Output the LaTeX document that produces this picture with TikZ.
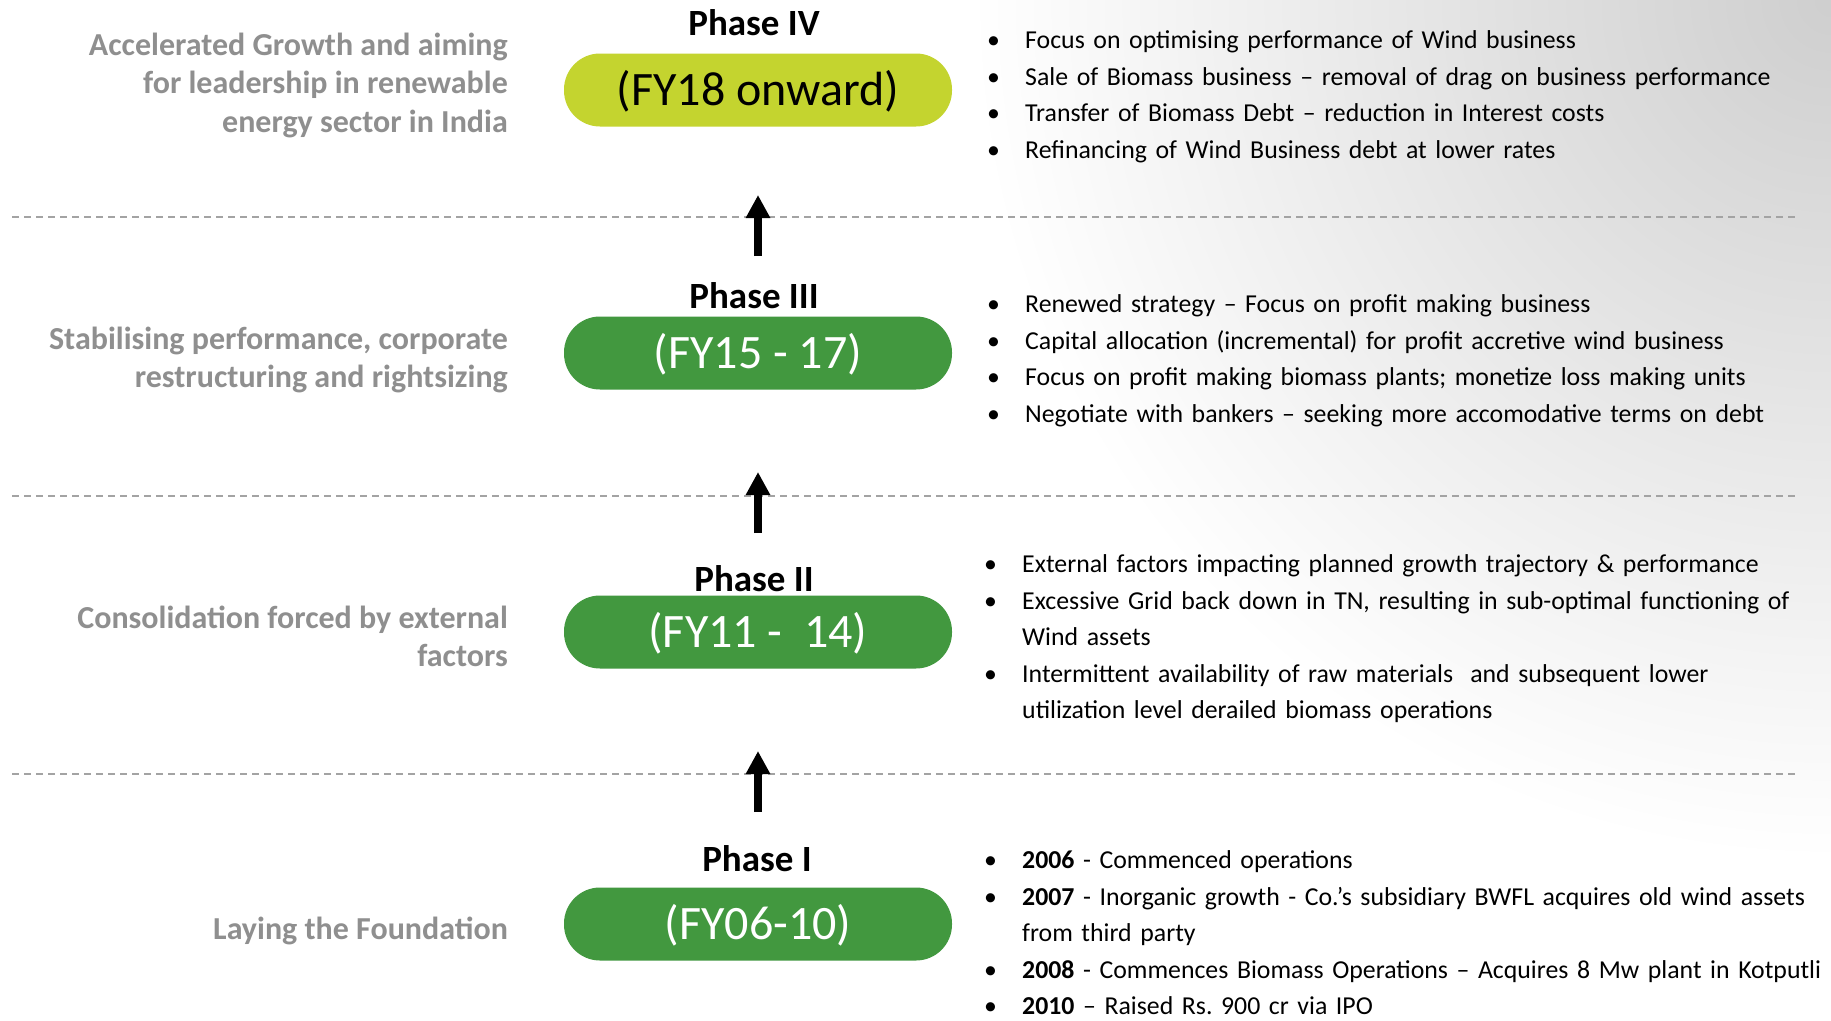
\documentclass[tikz,border=0pt]{standalone}
\usepackage{fontspec}
\setmainfont{Carlito}
\usetikzlibrary{arrows.meta}
\definecolor{lime}{HTML}{C4D42F}
\definecolor{leaf}{HTML}{42983F}
\definecolor{mute}{HTML}{8F8F8F}
\definecolor{rule}{HTML}{A3A3A3}
\frenchspacing
\newcommand{\pnt}[1]{\par\noindent\hangindent=38pt\hangafter=1\makebox[38pt][l]{\strut\textbullet}#1\par}
\begin{document}
\begin{tikzpicture}[x=1pt, y=-1pt,
	pill/.style={rounded corners=36pt, minimum width=388pt, minimum height=73pt, inner sep=0pt, text height=40pt, text depth=10pt, font=\fontsize{48}{56}\selectfont},
	phase/.style={anchor=base, inner sep=0pt, font=\bfseries\fontsize{37}{44}\selectfont},
	aim/.style={anchor=north east, inner sep=0pt, align=right, text=mute, font=\bfseries\fontsize{32}{38.5}\selectfont},
	pts/.style={anchor=north west, inner sep=0pt, text width=900pt, align=left, font=\fontsize{25.8}{36.5}\selectfont},
	sep/.style={rule, line width=1.5pt, dash pattern=on 7pt off 5pt},
	up/.style={line width=8pt, -{Triangle[length=23pt, width=23pt]}}]
	\useasboundingbox (0,0) rectangle (1831,1020);
	\begin{scope}
		\clip (0,0) rectangle (1831,1020);
		\fill[white] (0,0) rectangle (1831,1020);
		\shade[inner color=black!19, outer color=white] (1831,0) circle (860pt);
	\end{scope}

	\draw[sep] (12,217) -- (1798,217);
	\draw[sep] (12,496) -- (1798,496);
	\draw[sep] (12,774) -- (1798,774);

	\node[phase] (h4) at (754,35) {Phase IV};
	\node[pill, fill=lime] (p4) at (758,90) {(FY18 onward)};
	\node[aim] (g4) at (508,28) {\strut Accelerated Growth and aiming\\for leadership in renewable\\energy sector in India};
	\node[pts] (l4) at (987,12) {\pnt{Focus on optimising performance of Wind business}
		\pnt{Sale of Biomass business -- removal of drag on business performance}
		\pnt{Transfer of Biomass Debt -- reduction in Interest costs}
		\pnt{Refinancing of Wind Business debt at lower rates}};

	\coordinate (a3) at (758,256);
	\coordinate (a3t) at (758,195);
	\draw[up] (a3) -- (a3t);

	\node[phase] (h3) at (754,308) {Phase III};
	\node[pill, fill=leaf, text=white] (p3) at (758,353) {(FY15 - 17)};
	\node[aim] (g3) at (508,322) {\strut Stabilising performance, corporate\\restructuring and rightsizing};
	\node[pts] (l3) at (987,276) {\pnt{Renewed strategy -- Focus on profit making business}
		\pnt{Capital allocation (incremental) for profit accretive wind business}
		\pnt{Focus on profit making biomass plants; monetize loss making units}
		\pnt{Negotiate with bankers -- seeking more accomodative terms on debt}};

	\coordinate (a2) at (758,533);
	\coordinate (a2t) at (758,472);
	\draw[up] (a2) -- (a2t);

	\node[phase] (h2) at (754,591) {Phase II};
	\node[pill, fill=leaf, text=white] (p2) at (758,632) {(FY11 -~~14)};
	\node[aim] (g2) at (508,601) {\strut Consolidation forced by external\\factors};
	\node[pts] (l2) at (984,536) {\pnt{External factors impacting planned growth trajectory \& performance}
		\pnt{Excessive Grid back down in TN, resulting in sub-optimal functioning of\newline Wind assets}
		\pnt{Intermittent availability of raw materials~ and subsequent lower\newline utilization level derailed biomass operations}};

	\coordinate (a1) at (758,812);
	\coordinate (a1t) at (758,751);
	\draw[up] (a1) -- (a1t);

	\node[phase] (h1) at (757,871) {Phase I};
	\node[pill, fill=leaf, text=white] (p1) at (758,924) {(FY06-10)};
	\node[aim] (g1) at (508,912) {\strut Laying the Foundation};
	\node[pts] (l1) at (984,832) {\pnt{\textbf{2006} - Commenced operations}
		\pnt{\textbf{2007} - Inorganic growth - Co.'s subsidiary BWFL acquires old wind assets\newline from third party}
		\pnt{\textbf{2008} - Commences Biomass Operations -- Acquires 8 Mw plant in Kotputli}
		\pnt{\textbf{2010} -- Raised Rs. 900 cr via IPO}};
\end{tikzpicture}
\end{document}
